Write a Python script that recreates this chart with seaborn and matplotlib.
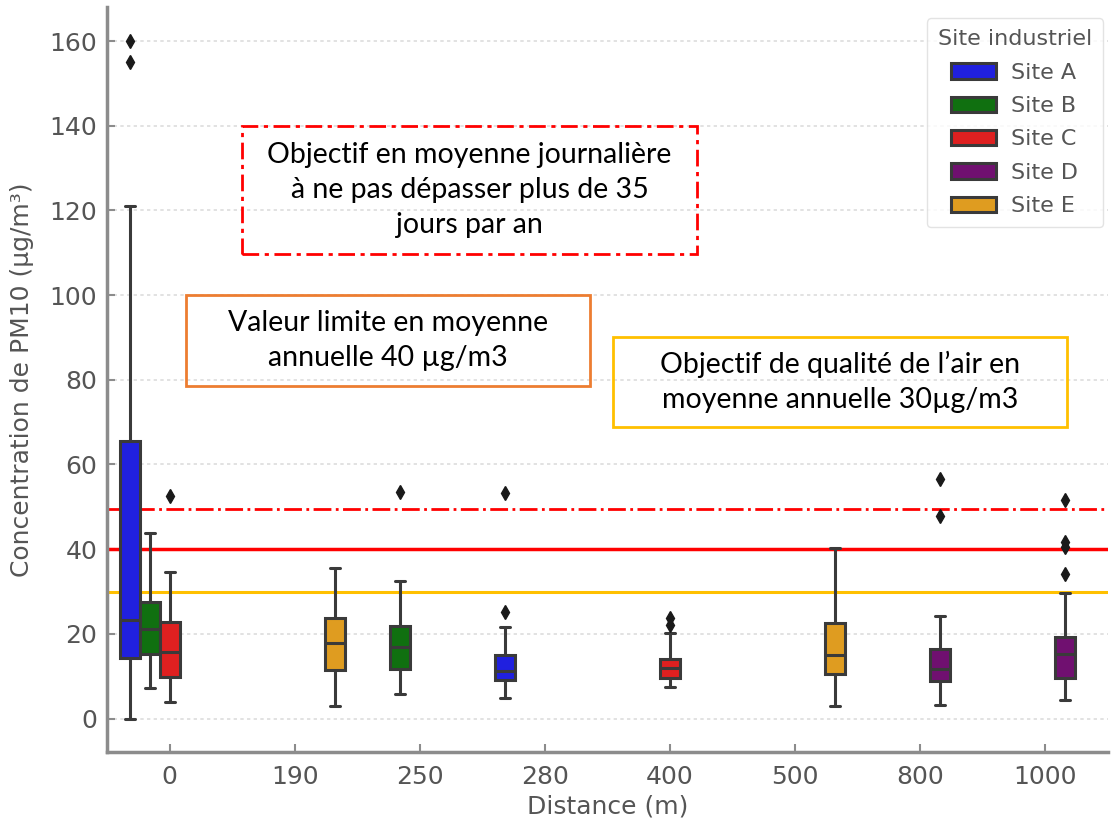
import matplotlib
matplotlib.use("Agg")
import matplotlib.pyplot as plt
from matplotlib.patches import Rectangle
import seaborn as sns
import pandas as pd

# Categories
distances = ["0", "190", "250", "280", "400", "500", "800", "1000"]
sites = ["Site A", "Site B", "Site C", "Site D", "Site E"]
site_colors = ["blue", "green", "red", "purple", "orange"]

# Daily PM10 measurements (µg/m³) for each site / distance combination
site_a_0m = [0, 6, 11, 14.4, 17, 20, 23.3, 35, 50, 65.6, 121, 155, 160]
site_b_0m = [7.1, 12, 15.2, 18, 21.2, 24, 27.6, 35, 43.7]
site_c_0m = [4.0, 7, 9.8, 13, 15.8, 19, 22.9, 34.7, 52.5]
site_e_190m = [3.0, 8, 11.5, 15, 17.8, 21, 23.7, 29, 35.5]
site_b_250m = [5.8, 9, 11.7, 14, 17.0, 20, 21.9, 32.5, 53.5]
site_a_280m = [4.9, 7, 8, 9.1, 10, 10.8, 11.3, 12.5, 13.8, 15.0, 21.7, 25.2, 53.3]
site_c_400m = [7.4, 8.2, 9.0, 9.5, 10.5, 11.2, 12.0, 12.8, 13.4, 14.0, 20.3, 22.0, 23.8]
site_e_500m = [2.9, 7, 10.5, 13, 15.1, 19, 22.5, 30, 40.3]
site_d_800m = [3.1, 5.5, 7.5, 8.9, 10, 11, 11.8, 13.5, 15, 16.4, 24.2, 47.8, 56.5]
site_d_1000m = [4.4, 6, 7.2, 8.1, 8.9, 9.5, 10.8, 12, 13.2, 14.3, 15.2, 16, 16.9,
                17.6, 18.4, 19.2, 29.7, 34.2, 40.5, 41.8, 51.5]

# Regulatory thresholds (µg/m³)
daily_objective = 49.5
annual_limit = 40
air_quality_objective = 30

groups = [
    ("Site A", "0", site_a_0m),
    ("Site B", "0", site_b_0m),
    ("Site C", "0", site_c_0m),
    ("Site E", "190", site_e_190m),
    ("Site B", "250", site_b_250m),
    ("Site A", "280", site_a_280m),
    ("Site C", "400", site_c_400m),
    ("Site E", "500", site_e_500m),
    ("Site D", "800", site_d_800m),
    ("Site D", "1000", site_d_1000m),
]
rows = [(s, d, v) for s, d, vals in groups for v in vals]
df = pd.DataFrame(rows, columns=["Site industriel", "Distance (m)", "PM10"])

sns.set_theme(style="ticks")
plt.rcParams["font.family"] = ["DejaVu Sans"]

W, H = 1111, 823
fig = plt.figure(figsize=(W / 100, H / 100), dpi=100)
ax = fig.add_axes([107 / W, 1 - 752.4 / H, 1000.5 / W, 745.2 / H])

text_grey = "#555555"
axis_grey = "#8c8c8c"

ax.yaxis.grid(True, color="#dddddd", linestyle=(0, (2, 2)), linewidth=1.2, zorder=0)
ax.set_axisbelow(True)

sns.boxplot(
    data=df, x="Distance (m)", y="PM10", hue="Site industriel",
    order=distances, hue_order=sites, palette=site_colors,
    linecolor="#3a3a3a", linewidth=2.2,
    flierprops=dict(marker="d", markerfacecolor="#1a1a1a",
                    markeredgecolor="#1a1a1a", markersize=7.5),
    ax=ax,
)

ax.axhline(daily_objective, color="red", linestyle="-.", linewidth=2, zorder=1)
ax.axhline(annual_limit, color="red", linestyle="-", linewidth=2.5, zorder=1)
ax.axhline(air_quality_objective, color="#FFC000", linestyle="-", linewidth=2.2, zorder=1)

ax.set_xlim(-0.5, 7.5)
ax.set_ylim(-8, 168)
ax.set_yticks([0, 20, 40, 60, 80, 100, 120, 140, 160])

for side in ["top", "right"]:
    ax.spines[side].set_visible(False)
for side in ["left", "bottom"]:
    ax.spines[side].set_color(axis_grey)
    ax.spines[side].set_linewidth(2.5)

ax.tick_params(axis="both", direction="in", length=6, width=1.5,
               colors=axis_grey, labelcolor=text_grey, labelsize=18)
ax.tick_params(axis="y", pad=7)
ax.tick_params(axis="x", pad=9)

ax.set_xlabel("Distance (m)", fontsize=18, color=text_grey, labelpad=4)
ax.set_ylabel("Concentration de PM10 (µg/m³)", fontsize=18, color=text_grey, labelpad=11)

sns.move_legend(ax, "upper right", bbox_to_anchor=(1.0, 0.991),
                title="Site industriel", fontsize=16, title_fontsize=16,
                frameon=True, borderaxespad=0.2, labelspacing=0.6,
                borderpad=0.5, handletextpad=0.7)
leg = ax.get_legend()
leg.get_title().set_color(text_grey)
for t in leg.get_texts():
    t.set_color(text_grey)
leg.get_frame().set_edgecolor("#dddddd")

# Framed annotations for the regulatory thresholds
notes = [
    ((242, 126, 697, 254), "red", (0, (6, 2, 1.5, 2)),
     "Objectif en moyenne journalière\nà ne pas dépasser plus de 35\njours par an"),
    ((186, 295, 590, 386), "#ED7D31", "-",
     "Valeur limite en moyenne\nannuelle 40 µg/m3"),
    ((613, 337, 1067, 427), "#FFC000", "-",
     "Objectif de qualité de l’air en\nmoyenne annuelle 30µg/m3"),
]
for (x0, y0, x1, y1), col, ls, txt in notes:
    rect = Rectangle((x0 / W, 1 - y1 / H), (x1 - x0) / W, (y1 - y0) / H,
                     transform=fig.transFigure, fill=False, edgecolor=col,
                     linestyle=ls, linewidth=2)
    fig.add_artist(rect)
    fig.text((x0 + x1) / 2 / W, 1 - (y0 + y1) / 2 / H, txt,
             ha="center", va="center", multialignment="center",
             fontsize=20.5, family=["Lato", "DejaVu Sans"], color="black",
             linespacing=1.45)

fig.savefig("out.png", dpi=100)
